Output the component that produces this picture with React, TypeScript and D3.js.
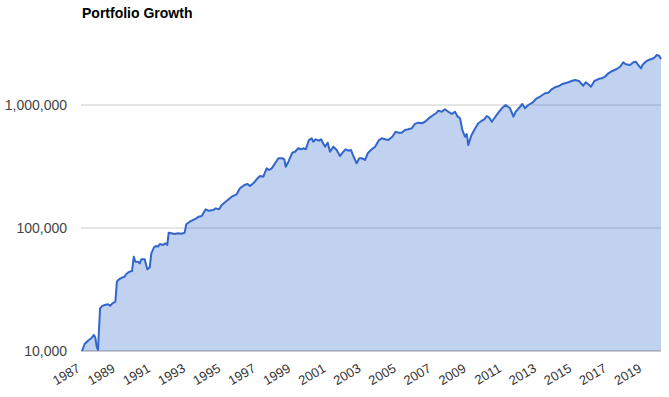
import * as d3 from 'd3';

// Portfolio value over time (decimal years)
const years = [
    1987.0, 1987.15, 1987.34, 1987.53, 1987.68, 1987.76, 1987.84, 1987.91, 1988.03, 1988.14,
    1988.29, 1988.48, 1988.61, 1988.73, 1988.9, 1988.99, 1989.11, 1989.3, 1989.43, 1989.52,
    1989.62, 1989.72, 1989.85, 1989.95, 1990.04, 1990.19, 1990.29, 1990.38, 1990.57, 1990.72,
    1990.86, 1990.95, 1991.1, 1991.23, 1991.33, 1991.44, 1991.62, 1991.75, 1991.86, 1991.94,
    1992.09, 1992.28, 1992.47, 1992.66, 1992.85, 1992.94, 1993.14, 1993.32, 1993.51, 1993.65,
    1993.82, 1994.05, 1994.2, 1994.48, 1994.62, 1994.81, 1994.96, 1995.25, 1995.53, 1995.81,
    1996.0, 1996.25, 1996.44, 1996.57, 1996.76, 1996.95, 1997.14, 1997.33, 1997.52, 1997.66,
    1997.81, 1998.0, 1998.19, 1998.41, 1998.53, 1998.61, 1998.76, 1998.98, 1999.14, 1999.32,
    1999.48, 1999.61, 1999.75, 1999.93, 2000.09, 2000.18, 2000.32, 2000.5, 2000.62, 2000.69,
    2000.85, 2001.0, 2001.13, 2001.32, 2001.51, 2001.7, 2001.89, 2002.03, 2002.17, 2002.33,
    2002.46, 2002.65, 2002.8, 2002.94, 2003.13, 2003.28, 2003.51, 2003.7, 2003.92, 2004.08,
    2004.27, 2004.45, 2004.68, 2004.87, 2005.02, 2005.22, 2005.4, 2005.59, 2005.79, 2005.97,
    2006.16, 2006.36, 2006.54, 2006.83, 2007.02, 2007.21, 2007.3, 2007.5, 2007.68, 2007.87,
    2008.07, 2008.25, 2008.41, 2008.54, 2008.67, 2008.82, 2008.92, 2009.01, 2009.17, 2009.35,
    2009.58, 2009.78, 2009.92, 2010.06, 2010.19, 2010.35, 2010.49, 2010.69, 2010.92, 2011.14,
    2011.39, 2011.58, 2011.71, 2011.96, 2012.09, 2012.24, 2012.43, 2012.66, 2012.91, 2013.15,
    2013.38, 2013.57, 2013.76, 2013.95, 2014.18, 2014.33, 2014.52, 2014.71, 2014.9, 2015.09,
    2015.32, 2015.43, 2015.56, 2015.7, 2015.85, 2016.0, 2016.19, 2016.42, 2016.61, 2016.8,
    2016.99, 2017.22, 2017.47, 2017.66, 2017.84, 2017.98, 2018.23, 2018.41, 2018.55, 2018.7,
    2018.85, 2018.93, 2019.12, 2019.27, 2019.46, 2019.61, 2019.75, 2019.88, 2019.99,
];

const portfolio = [
    10000, 11400, 12100, 12700, 13500, 12800, 10800, 10200, 22200, 23200,
    23700, 24000, 23300, 24400, 25200, 36600, 38300, 39700, 40200, 42300,
    43300, 44200, 44700, 58400, 53200, 53200, 51600, 55700, 55700, 46100,
    47900, 62200, 69700, 71400, 70500, 74100, 72800, 75100, 72800, 91600,
    90600, 89400, 90600, 89900, 91600, 107200, 112500, 116100, 119900, 123600,
    125300, 141900, 138300, 140000, 144500, 141900, 153800, 166700, 179700, 187900,
    210400, 223800, 228000, 219300, 230700, 248900, 264800, 261200, 305500, 296200,
    305500, 335700, 369000, 369000, 361900, 314800, 345900, 409300, 417000, 444600,
    436300, 444600, 436300, 519100, 535800, 502900, 526000, 512800, 526000, 502900,
    458100, 493800, 417000, 458100, 430500, 384800, 417000, 436300, 425100, 430500,
    384800, 335700, 369000, 369000, 357300, 404800, 436300, 458100, 519100, 535800,
    526000, 519100, 552500, 606700, 595700, 595700, 626600, 634600, 646700, 701500,
    718300, 710000, 731000, 794000, 829900, 865000, 899000, 882000, 923000, 882000,
    845000, 882000, 804000, 780000, 626600, 552000, 581000, 473000, 560000, 626600,
    710000, 745000, 765000, 814000, 794000, 731000, 780000, 856000, 940000, 1000000,
    940000, 804000, 882000, 968000, 1019000, 940000, 1000000, 1044000, 1134000, 1183000,
    1245000, 1259000, 1342000, 1393000, 1427000, 1473000, 1501000, 1530000, 1567000, 1596000,
    1567000, 1501000, 1435000, 1530000, 1473000, 1409000, 1567000, 1626000, 1648000, 1698000,
    1811000, 1890000, 1962000, 2047000, 2223000, 2142000, 2113000, 2223000, 2249000, 2113000,
    1986000, 2113000, 2249000, 2323000, 2366000, 2425000, 2550000, 2518000, 2366000,
];

const yearTicks = [1987, 1989, 1991, 1993, 1995, 1997, 1999, 2001, 2003, 2005, 2007, 2009, 2011, 2013, 2015, 2017, 2019];
const valueTicks = [10000, 100000, 1000000];

const WIDTH = 669;
const HEIGHT = 397;
const FONT = "Arial, 'Liberation Sans', sans-serif";

export default function App() {
    const data = years.map((year, i) => ({ year, value: portfolio[i] }));

    const x = d3
        .scaleLinear()
        .domain(d3.extent(years) as [number, number])
        .range([82, 661]);
    const y = d3.scaleLog().domain([10000, 1000000]).range([351, 105]);
    const fmt = d3.format(',');

    const area = d3
        .area<{ year: number; value: number }>()
        .x((d) => x(d.year))
        .y0(y(10000))
        .y1((d) => y(d.value));
    const line = d3
        .line<{ year: number; value: number }>()
        .x((d) => x(d.year))
        .y((d) => y(d.value));

    return (
        <svg
            width={WIDTH}
            height={HEIGHT}
            style={{ position: 'absolute', left: 0, top: 0, background: '#fff' }}
            fontFamily={FONT}
        >
            <text x={82} y={18} fontSize={14} fontWeight="bold" fill="#000">
                Portfolio Growth
            </text>

            {/* gridlines */}
            {valueTicks.slice(1).map((v) => (
                <line key={v} x1={81} x2={661} y1={y(v)} y2={y(v)} stroke="#cccccc" strokeWidth={1} />
            ))}
            <line x1={81} x2={661} y1={y(10000)} y2={y(10000)} stroke="#999999" strokeWidth={1} />

            {/* area + line */}
            <path d={area(data) ?? ''} fill="#3366cc" fillOpacity={0.3} />
            <path d={line(data) ?? ''} fill="none" stroke="#3366cc" strokeWidth={2} strokeLinejoin="round" />

            {/* y axis labels */}
            {valueTicks.map((v) => (
                <text key={v} x={67} y={y(v)} dy="0.35em" textAnchor="end" fontSize={14} fill="#444">
                    {fmt(v)}
                </text>
            ))}

            {/* x axis labels, slanted */}
            {yearTicks.map((t) => (
                <text
                    key={t}
                    transform={`translate(${x(t) - 1}, 371) rotate(-30)`}
                    textAnchor="end"
                    fontSize={13}
                    fill="#333"
                >
                    {t}
                </text>
            ))}
        </svg>
    );
}
